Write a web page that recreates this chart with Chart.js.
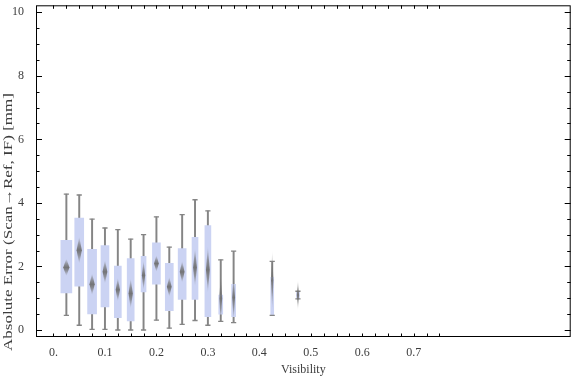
<!DOCTYPE html>
<html lang="en">
<head>
<meta charset="UTF-8">
<title>Absolute Error vs Visibility</title>
<script src="https://cdn.jsdelivr.net/npm/chart.js"></script>
<style>
  html, body { margin: 0; padding: 0; background: #fff; }
  #wrap { width: 576px; height: 377px; }
</style>
</head>
<body>
<div id="wrap"><canvas id="chart"></canvas></div>
<script>
// one box per visibility bin
const visibility  = [0.025, 0.05, 0.075, 0.1, 0.125, 0.15, 0.175, 0.2, 0.225, 0.25, 0.275, 0.3, 0.325, 0.35, 0.425, 0.475];
const whiskerLow  = [0.46, 0.15, 0.02, 0.02, 0.00, 0.00, 0.00, 0.31, 0.06, 0.18, 0.30, 0.15, 0.27, 0.23, 0.46, 0.98];
const boxLow      = [1.17, 1.38, 0.51, 0.73, 0.39, 0.29, 1.20, 1.44, 0.61, 0.96, 0.96, 0.42, 0.50, 0.42, 0.46, 1.00];
const boxHigh     = [2.82, 3.52, 2.54, 2.66, 2.01, 2.25, 2.32, 2.74, 2.10, 2.56, 2.92, 3.29, 1.10, 1.44, 1.66, 1.22];
const whiskerHigh = [4.28, 4.25, 3.49, 3.21, 3.16, 2.86, 3.00, 3.56, 2.61, 3.63, 4.10, 3.75, 2.21, 2.48, 2.16, 1.22];
const meanError   = [1.97, 2.51, 1.44, 1.83, 1.27, 1.15, 1.72, 2.09, 1.36, 1.83, 1.97, 1.90, 1.00, 1.02, 1.57, 1.10];
const meanCI      = [0.27, 0.42, 0.34, 0.37, 0.37, 0.47, 0.47, 0.26, 0.31, 0.34, 0.60, 0.73, 0.78, 0.70, 0.94, 0.47];

const xTickValues = [0, 0.1, 0.2, 0.3, 0.4, 0.5, 0.6, 0.7];
const xTickLabels = ['0.', '0.1', '0.2', '0.3', '0.4', '0.5', '0.6', '0.7'];
const yTickValues = [0, 2, 4, 6, 8, 10];
const yTickLabels = ['0', '2', '4', '6', '8', '10'];
const yTitle = 'Absolute Error (Scan\u2192Ref, IF) [mm]';

// styling
const boxWidths = [11, 9, 9, 8, 7, 7, 5, 8, 8, 8, 6, 6, 4, 4, 3, 3];
const boxColor = '#cbd3f3';
const whiskerColor = '#858585';
const textColor = '#3c3c3c';
const serif = '"Liberation Serif", "Times New Roman", serif';
const font = { family: serif, size: 12 };

// frame, inward ticks, mean diamonds and the (stretched) y title
const frameMarks = {
  id: 'frameMarks',
  afterDatasetsDraw(chart) {
    const ctx = chart.ctx;
    const { x, y } = chart.scales;
    ctx.save();
    ctx.filter = 'blur(0.5px)';
    visibility.forEach((v, i) => {
      const cx = x.getPixelForValue(v);
      const yc = y.getPixelForValue(meanError[i]);
      const yt = y.getPixelForValue(meanError[i] + meanCI[i]);
      const yb = y.getPixelForValue(meanError[i] - meanCI[i]);
      const hw = boxWidths[i] * 0.25 + 0.4;
      const g = ctx.createLinearGradient(0, yt, 0, yb);
      g.addColorStop(0, 'rgba(115,115,115,0)');
      g.addColorStop(0.3, 'rgba(115,115,115,0.7)');
      g.addColorStop(0.5, 'rgba(110,110,110,0.95)');
      g.addColorStop(0.7, 'rgba(115,115,115,0.7)');
      g.addColorStop(1, 'rgba(115,115,115,0)');
      ctx.fillStyle = g;
      ctx.beginPath();
      ctx.moveTo(cx, yt);
      ctx.lineTo(cx + hw, yc);
      ctx.lineTo(cx, yb);
      ctx.lineTo(cx - hw, yc);
      ctx.closePath();
      ctx.fill();
    });
    ctx.restore();
  },
  afterDraw(chart) {
    const ctx = chart.ctx;
    const a = chart.chartArea;
    const { x, y } = chart.scales;
    ctx.save();
    ctx.strokeStyle = '#000';
    ctx.lineWidth = 1;
    ctx.beginPath();
    for (let k = 0; k <= 30; k++) {
      const px = Math.round(x.getPixelForValue(k * 0.025)) + 0.5;
      ctx.moveTo(px, a.bottom); ctx.lineTo(px, a.bottom - 3.5);
      ctx.moveTo(px, a.top); ctx.lineTo(px, a.top + 3.5);
    }
    for (let k = 0; k <= 20; k++) {
      const py = Math.round(y.getPixelForValue(k * 0.5)) + 0.5;
      const len = k % 4 === 0 ? 6 : 3.5;
      ctx.moveTo(a.left, py); ctx.lineTo(a.left + len, py);
      ctx.moveTo(a.right, py); ctx.lineTo(a.right - len, py);
    }
    ctx.stroke();
    ctx.strokeRect(a.left + 0.5, a.top + 0.5, a.right - a.left - 1, a.bottom - a.top - 1);

    // y title, running from just below the frame up to ~y=93
    ctx.font = '13px ' + serif;
    ctx.fillStyle = textColor;
    ctx.textAlign = 'left';
    ctx.textBaseline = 'middle';
    const w = ctx.measureText(yTitle).width;
    ctx.translate(9, 351);
    ctx.rotate(-Math.PI / 2);
    ctx.scale(258 / w, 1);
    ctx.fillText(yTitle, 0, 0);
    ctx.restore();
  }
};

const boxSets = visibility.map((v, i) => ({
  type: 'bar',
  data: [{ x: v, y: [boxLow[i], boxHigh[i]] }],
  backgroundColor: boxColor,
  barThickness: boxWidths[i],
  grouped: false,
  order: 2
}));

new Chart(document.getElementById('chart'), {
  type: 'bar',
  data: {
    datasets: [
      {
        type: 'bar',
        data: visibility.map((v, i) => ({ x: v, y: [whiskerLow[i], whiskerHigh[i]] })),
        backgroundColor: whiskerColor,
        barThickness: 1.3,
        grouped: false,
        order: 3
      },
      ...boxSets,
      {
        type: 'line',
        showLine: false,
        data: visibility.map((v, i) => ({ x: v, y: whiskerLow[i] }))
          .concat(visibility.map((v, i) => ({ x: v, y: whiskerHigh[i] }))),
        pointStyle: 'line',
        pointRadius: 2.6,
        borderColor: whiskerColor,
        borderWidth: 1.3,
        order: 1
      }
    ]
  },
  options: {
    responsive: true,
    maintainAspectRatio: false,
    animation: false,
    layout: { padding: { top: 4, right: 2, left: 0, bottom: 0 } },
    plugins: { legend: { display: false }, tooltip: { enabled: false } },
    scales: {
      x: {
        type: 'linear',
        min: -0.034,
        max: 1.005,
        offset: false,
        grid: { display: false },
        border: { display: false },
        afterBuildTicks: s => { s.ticks = xTickValues.map(v => ({ value: v })); },
        afterFit: s => { s.height = 40; s.paddingLeft = 0; s.paddingRight = 0; },
        ticks: {
          autoSkip: false,
          maxRotation: 0,
          padding: 1,
          color: textColor,
          font: font,
          callback: (val, idx) => xTickLabels[idx]
        },
        title: { display: true, text: 'Visibility', color: textColor, font: font, padding: { top: 0, bottom: 0 } }
      },
      y: {
        min: -0.22,
        max: 10.22,
        grid: { display: false },
        border: { display: false },
        afterBuildTicks: s => { s.ticks = yTickValues.map(v => ({ value: v })); },
        afterFit: s => { s.width = 36; s.paddingTop = 0; s.paddingBottom = 0; },
        ticks: {
          padding: 4,
          color: textColor,
          font: font,
          callback: (val, idx) => yTickLabels[idx]
        }
      }
    }
  },
  plugins: [frameMarks]
});
</script>
</body>
</html>
